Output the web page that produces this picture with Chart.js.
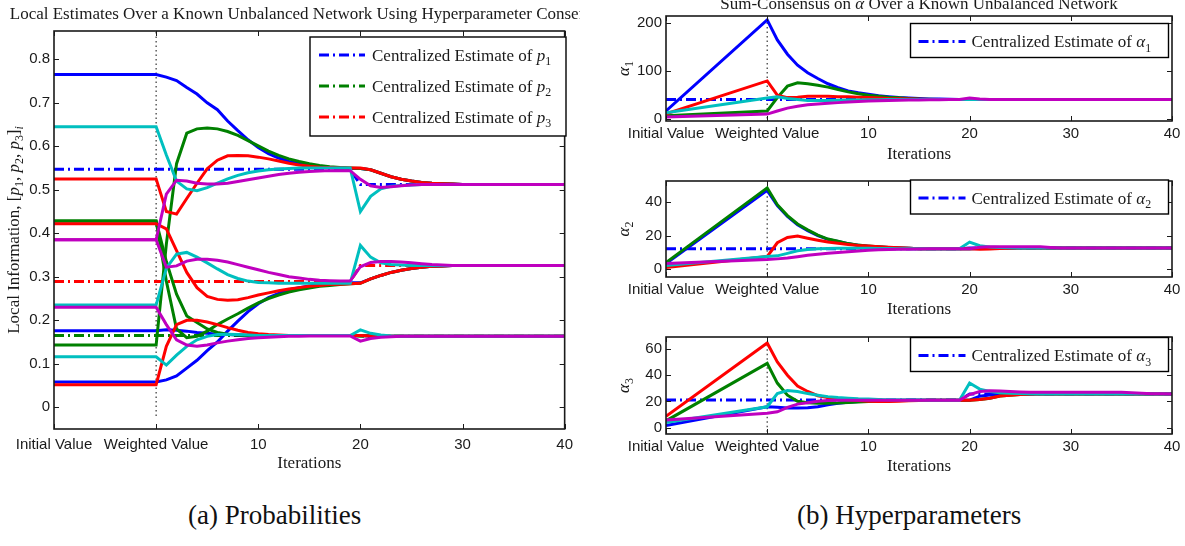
<!DOCTYPE html>
<html>
<head>
<meta charset="utf-8">
<script src="https://cdn.jsdelivr.net/npm/chart.js@4.4.1/dist/chart.umd.min.js"></script>
<style>
body { margin: 0; background: #fff; }
#wrap { position: relative; width: 1185px; height: 546px; overflow: hidden; background: #fff; }
canvas { position: absolute; }
.cap { position: absolute; top: 500px; font-family: "Liberation Serif", serif; font-size: 27px; color: #111; white-space: nowrap; }
</style>
</head>
<body>
<div id="wrap">
  <canvas id="cP" width="580" height="480" style="left:0px;top:0px"></canvas>
  <canvas id="cA1" width="585" height="168" style="left:600px;top:0px"></canvas>
  <canvas id="cA2" width="585" height="156" style="left:600px;top:168px"></canvas>
  <canvas id="cA3" width="585" height="157" style="left:600px;top:324px"></canvas>
  <div class="cap" style="left:188px">(a) Probabilities</div>
  <div class="cap" style="left:797px">(b) Hyperparameters</div>
</div>
<script>
// x positions: initial value, weighted value (iteration 0), iterations 1..40
var xPos = [0, 10,
  11, 12, 13, 14, 15, 16, 17, 18, 19, 20,
  21, 22, 23, 24, 25, 26, 27, 28, 29, 30,
  31, 32, 33, 34, 35, 36, 37, 38, 39, 40,
  41, 42, 43, 44, 45, 46, 47, 48, 49, 50];
var xTickVals = [0, 10, 20, 30, 40, 50];
var xTickLabels = ['Initial Value', 'Weighted Value', '10', '20', '30', '40'];

// ---- probabilities, one array per agent and component ----
var pBlue1 = [0.765, 0.765,
  0.759, 0.751, 0.735, 0.720, 0.700, 0.684, 0.658, 0.636, 0.615, 0.597,
  0.583, 0.573, 0.565, 0.560, 0.556, 0.553, 0.551, 0.550, 0.549, 0.549,
  0.546, 0.538, 0.530, 0.524, 0.520, 0.517, 0.515, 0.514, 0.513, 0.512,
  0.512, 0.512, 0.512, 0.512, 0.512, 0.512, 0.512, 0.512, 0.512, 0.512];
var pGreen1 = [0.143, 0.143,
  0.375, 0.560, 0.630, 0.640, 0.642, 0.640, 0.634, 0.625, 0.613, 0.601,
  0.589, 0.579, 0.571, 0.565, 0.560, 0.556, 0.553, 0.551, 0.550, 0.549,
  0.546, 0.538, 0.530, 0.524, 0.520, 0.517, 0.515, 0.514, 0.513, 0.512,
  0.512, 0.512, 0.512, 0.512, 0.512, 0.512, 0.512, 0.512, 0.512, 0.512];
var pRed1 = [0.525, 0.525,
  0.450, 0.444, 0.480, 0.515, 0.548, 0.568, 0.578, 0.579, 0.578, 0.575,
  0.571, 0.566, 0.561, 0.557, 0.554, 0.552, 0.551, 0.550, 0.550, 0.550,
  0.546, 0.538, 0.530, 0.524, 0.520, 0.517, 0.515, 0.514, 0.513, 0.512,
  0.512, 0.512, 0.512, 0.512, 0.512, 0.512, 0.512, 0.512, 0.512, 0.512];
var pCyan1 = [0.645, 0.645,
  0.580, 0.520, 0.502, 0.498, 0.505, 0.515, 0.525, 0.533, 0.539, 0.543,
  0.546, 0.548, 0.549, 0.550, 0.550, 0.550, 0.550, 0.550, 0.550, 0.450,
  0.485, 0.502, 0.508, 0.510, 0.511, 0.512, 0.512, 0.512, 0.512, 0.512,
  0.512, 0.512, 0.512, 0.512, 0.512, 0.512, 0.512, 0.512, 0.512, 0.512];
var pMag1 = [0.385, 0.385,
  0.490, 0.522, 0.520, 0.515, 0.513, 0.513, 0.515, 0.519, 0.523, 0.527,
  0.531, 0.535, 0.538, 0.540, 0.542, 0.543, 0.544, 0.544, 0.544, 0.524,
  0.509, 0.505, 0.507, 0.509, 0.511, 0.512, 0.512, 0.512, 0.512, 0.512,
  0.512, 0.512, 0.512, 0.512, 0.512, 0.512, 0.512, 0.512, 0.512, 0.512];

var pBlue2 = [0.176, 0.176,
  0.178, 0.177, 0.175, 0.172, 0.170, 0.168, 0.167, 0.166, 0.165, 0.165,
  0.165, 0.165, 0.165, 0.165, 0.165, 0.165, 0.165, 0.165, 0.165, 0.165,
  0.164, 0.163, 0.163, 0.163, 0.163, 0.163, 0.163, 0.163, 0.163, 0.163,
  0.163, 0.163, 0.163, 0.163, 0.163, 0.163, 0.163, 0.163, 0.163, 0.163];
var pGreen2 = [0.428, 0.428,
  0.335, 0.260, 0.210, 0.195, 0.180, 0.172, 0.168, 0.166, 0.165, 0.165,
  0.165, 0.165, 0.165, 0.165, 0.165, 0.165, 0.165, 0.165, 0.165, 0.165,
  0.164, 0.163, 0.163, 0.163, 0.163, 0.163, 0.163, 0.163, 0.163, 0.163,
  0.163, 0.163, 0.163, 0.163, 0.163, 0.163, 0.163, 0.163, 0.163, 0.163];
var pRed2 = [0.052, 0.052,
  0.140, 0.190, 0.200, 0.200, 0.196, 0.190, 0.183, 0.177, 0.172, 0.169,
  0.167, 0.166, 0.165, 0.165, 0.165, 0.165, 0.165, 0.165, 0.165, 0.165,
  0.164, 0.163, 0.163, 0.163, 0.163, 0.163, 0.163, 0.163, 0.163, 0.163,
  0.163, 0.163, 0.163, 0.163, 0.163, 0.163, 0.163, 0.163, 0.163, 0.163];
var pCyan2 = [0.116, 0.116,
  0.097, 0.120, 0.140, 0.155, 0.163, 0.167, 0.168, 0.167, 0.166, 0.165,
  0.165, 0.165, 0.165, 0.165, 0.165, 0.165, 0.165, 0.165, 0.165, 0.178,
  0.170, 0.166, 0.164, 0.163, 0.163, 0.163, 0.163, 0.163, 0.163, 0.163,
  0.163, 0.163, 0.163, 0.163, 0.163, 0.163, 0.163, 0.163, 0.163, 0.163];
var pMag2 = [0.230, 0.230,
  0.190, 0.155, 0.143, 0.140, 0.143, 0.148, 0.152, 0.155, 0.158, 0.160,
  0.161, 0.162, 0.163, 0.163, 0.164, 0.164, 0.164, 0.164, 0.164, 0.152,
  0.158, 0.161, 0.162, 0.163, 0.163, 0.163, 0.163, 0.163, 0.163, 0.163,
  0.163, 0.163, 0.163, 0.163, 0.163, 0.163, 0.163, 0.163, 0.163, 0.163];

var pBlue3 = [0.058, 0.058,
  0.063, 0.072, 0.090, 0.108, 0.130, 0.150, 0.175, 0.198, 0.220, 0.238,
  0.252, 0.262, 0.270, 0.275, 0.279, 0.282, 0.284, 0.285, 0.286, 0.286,
  0.295, 0.303, 0.310, 0.315, 0.319, 0.322, 0.324, 0.325, 0.326, 0.326,
  0.326, 0.326, 0.326, 0.326, 0.326, 0.326, 0.326, 0.326, 0.326, 0.326];
var pGreen3 = [0.428, 0.428,
  0.290, 0.180, 0.160, 0.163, 0.175, 0.190, 0.203, 0.215, 0.228, 0.240,
  0.250, 0.258, 0.265, 0.270, 0.274, 0.278, 0.280, 0.282, 0.284, 0.285,
  0.295, 0.303, 0.310, 0.315, 0.319, 0.322, 0.324, 0.325, 0.326, 0.326,
  0.326, 0.326, 0.326, 0.326, 0.326, 0.326, 0.326, 0.326, 0.326, 0.326];
var pRed3 = [0.422, 0.422,
  0.410, 0.360, 0.310, 0.275, 0.255, 0.248, 0.246, 0.247, 0.252, 0.258,
  0.263, 0.268, 0.272, 0.275, 0.278, 0.280, 0.282, 0.283, 0.284, 0.285,
  0.295, 0.303, 0.310, 0.315, 0.319, 0.322, 0.324, 0.325, 0.326, 0.326,
  0.326, 0.326, 0.326, 0.326, 0.326, 0.326, 0.326, 0.326, 0.326, 0.326];
var pCyan3 = [0.235, 0.235,
  0.320, 0.352, 0.356, 0.345, 0.332, 0.318, 0.305, 0.296, 0.290, 0.287,
  0.286, 0.285, 0.285, 0.285, 0.285, 0.285, 0.285, 0.285, 0.285, 0.372,
  0.345, 0.332, 0.328, 0.327, 0.326, 0.326, 0.326, 0.326, 0.326, 0.326,
  0.326, 0.326, 0.326, 0.326, 0.326, 0.326, 0.326, 0.326, 0.326, 0.326];
var pMag3 = [0.385, 0.385,
  0.322, 0.325, 0.336, 0.340, 0.340, 0.338, 0.334, 0.328, 0.322, 0.316,
  0.310, 0.305, 0.300, 0.297, 0.294, 0.292, 0.291, 0.290, 0.290, 0.323,
  0.333, 0.335, 0.335, 0.334, 0.332, 0.330, 0.328, 0.327, 0.326, 0.326,
  0.326, 0.326, 0.326, 0.326, 0.326, 0.326, 0.326, 0.326, 0.326, 0.326];

// centralized estimates (change at iteration 20)
var pCent1 = [0.547, 0.547,
  0.547, 0.547, 0.547, 0.547, 0.547, 0.547, 0.547, 0.547, 0.547, 0.547,
  0.547, 0.547, 0.547, 0.547, 0.547, 0.547, 0.547, 0.547, 0.547, 0.512,
  0.512, 0.512, 0.512, 0.512, 0.512, 0.512, 0.512, 0.512, 0.512, 0.512,
  0.512, 0.512, 0.512, 0.512, 0.512, 0.512, 0.512, 0.512, 0.512, 0.512];
var pCent2 = [0.165, 0.165,
  0.165, 0.165, 0.165, 0.165, 0.165, 0.165, 0.165, 0.165, 0.165, 0.165,
  0.165, 0.165, 0.165, 0.165, 0.165, 0.165, 0.165, 0.165, 0.165, 0.163,
  0.163, 0.163, 0.163, 0.163, 0.163, 0.163, 0.163, 0.163, 0.163, 0.163,
  0.163, 0.163, 0.163, 0.163, 0.163, 0.163, 0.163, 0.163, 0.163, 0.163];
var pCent3 = [0.289, 0.289,
  0.289, 0.289, 0.289, 0.289, 0.289, 0.289, 0.289, 0.289, 0.289, 0.289,
  0.289, 0.289, 0.289, 0.289, 0.289, 0.289, 0.289, 0.289, 0.289, 0.326,
  0.326, 0.326, 0.326, 0.326, 0.326, 0.326, 0.326, 0.326, 0.326, 0.326,
  0.326, 0.326, 0.326, 0.326, 0.326, 0.326, 0.326, 0.326, 0.326, 0.326];

// ---- hyperparameters ----
var a1Blue = [16, 207,
  165, 135, 112, 96, 84, 73, 65, 58, 54, 51,
  48, 46, 44, 43, 42, 41, 41, 40.5, 40, 40,
  40, 40, 40, 40, 40, 40, 40, 40, 40, 40,
  40, 40, 40, 40, 40, 40, 40, 40, 40, 40];
var a1Green = [6, 16,
  44, 68, 75, 73, 70, 66, 61, 56, 52, 49,
  47, 45, 43.5, 42, 41, 40.5, 40, 40, 40, 40,
  40, 40, 40, 40, 40, 40, 40, 40, 40, 40,
  40, 40, 40, 40, 40, 40, 40, 40, 40, 40];
var a1Red = [10, 79,
  49, 44, 45, 47, 47, 47, 46, 46, 45, 44,
  43, 42, 41.5, 41, 40.5, 40, 40, 40, 40, 40,
  40, 40, 40, 40, 40, 40, 40, 40, 40, 40,
  40, 40, 40, 40, 40, 40, 40, 40, 40, 40];
var a1Cyan = [12, 43,
  46, 42, 40, 38, 38, 38, 38.5, 39, 39, 39.5,
  39.5, 40, 40, 40, 40, 40, 40, 40, 40, 40,
  40, 40, 40, 40, 40, 40, 40, 40, 40, 40,
  40, 40, 40, 40, 40, 40, 40, 40, 40, 40];
var a1Mag = [3.5, 9.5,
  16, 22, 26, 29, 30.5, 32, 33.5, 35, 36, 37,
  37.5, 38, 38.5, 39, 39, 39.5, 39.5, 40, 40, 43,
  41, 40, 40, 40, 40, 40, 40, 40, 40, 40,
  40, 40, 40, 40, 40, 40, 40, 40, 40, 40];
var a1Cent = [40, 40,
  40, 40, 40, 40, 40, 40, 40, 40, 40, 40,
  40, 40, 40, 40, 40, 40, 40, 40, 40, 40,
  40, 40, 40, 40, 40, 40, 40, 40, 40, 40,
  40, 40, 40, 40, 40, 40, 40, 40, 40, 40];

var a2Blue = [3.4, 47,
  38, 31.5, 26.5, 23, 20, 17.8, 16.5, 15.2, 14.3, 13.7,
  13.3, 13, 12.7, 12.5, 12.3, 12.2, 12.2, 12.2, 12.2, 12.2,
  12.4, 12.7, 12.7, 12.7, 12.7, 12.7, 12.7, 12.7, 12.7, 12.7,
  12.7, 12.7, 12.7, 12.7, 12.7, 12.7, 12.7, 12.7, 12.7, 12.7];
var a2Green = [4, 48.5,
  38.5, 32, 27, 23.5, 20.4, 18, 16.7, 15.3, 14.4, 13.8,
  13.4, 13, 12.7, 12.5, 12.3, 12.2, 12.2, 12.2, 12.2, 12.3,
  12.5, 12.7, 12.7, 12.7, 12.7, 12.7, 12.7, 12.7, 12.7, 12.7,
  12.7, 12.7, 12.7, 12.7, 12.7, 12.7, 12.7, 12.7, 12.7, 12.7];
var a2Red = [1, 7.6,
  15.8, 19, 19.8, 18.5, 17.3, 16.2, 15.5, 14.8, 14.2, 13.8,
  13.4, 13.1, 12.8, 12.5, 12.3, 12.2, 12.2, 12.2, 12.2, 12.2,
  12.0, 12.1, 12.4, 12.6, 12.7, 12.7, 12.7, 12.7, 12.7, 12.7,
  12.7, 12.7, 12.7, 12.7, 12.7, 12.7, 12.7, 12.7, 12.7, 12.7];
var a2Cyan = [2.2, 7.6,
  8, 9.5, 11, 11.8, 12.2, 12.4, 12.5, 12.5, 12.5, 12.5,
  12.4, 12.4, 12.3, 12.3, 12.3, 12.2, 12.2, 12.2, 12.2, 16.2,
  14, 13.3, 13, 12.8, 12.7, 12.7, 12.7, 12.7, 12.7, 12.7,
  12.7, 12.7, 12.7, 12.7, 12.7, 12.7, 12.7, 12.7, 12.7, 12.7];
var a2Mag = [3.5, 5.8,
  6.2, 6.7, 7.5, 8.3, 8.9, 9.5, 10, 10.5, 10.9, 11.3,
  11.6, 11.8, 12, 12, 12.1, 12.2, 12.2, 12.2, 12.2, 12.2,
  13.1, 13.4, 13.4, 13.4, 13.4, 13.4, 13.4, 13.0, 12.7, 12.7,
  12.7, 12.7, 12.7, 12.7, 12.7, 12.7, 12.7, 12.7, 12.7, 12.7];
var a2Cent = [12.2, 12.2,
  12.2, 12.2, 12.2, 12.2, 12.2, 12.2, 12.2, 12.2, 12.2, 12.2,
  12.2, 12.2, 12.2, 12.2, 12.2, 12.2, 12.2, 12.2, 12.2, 12.7,
  12.7, 12.7, 12.7, 12.7, 12.7, 12.7, 12.7, 12.7, 12.7, 12.7,
  12.7, 12.7, 12.7, 12.7, 12.7, 12.7, 12.7, 12.7, 12.7, 12.7];

var a3Blue = [1.8, 16,
  15.6, 15, 15, 15.2, 16, 17.5, 18.6, 19.4, 20, 20.3,
  20.5, 20.7, 20.8, 20.9, 21, 21, 21, 21, 21, 21,
  24, 25, 25.7, 25.7, 25.7, 25.7, 25.7, 25.7, 25.7, 25.7,
  25.7, 25.7, 25.7, 25.7, 25.7, 25.7, 25.7, 25.7, 25.7, 25.7];
var a3Green = [5.3, 49,
  34, 24.8, 20.2, 19, 18.6, 18.6, 18.8, 19.2, 19.6, 20,
  20.3, 20.6, 20.8, 20.9, 21, 21, 21, 21, 21, 21,
  21.5, 22.5, 24.2, 24.8, 25.3, 25.6, 25.7, 25.7, 25.7, 25.7,
  25.7, 25.7, 25.7, 25.7, 25.7, 25.7, 25.7, 25.7, 25.7, 25.7];
var a3Red = [8.7, 64.4,
  50, 40, 31.7, 27.6, 24.4, 23, 22, 21.4, 20.7, 20.2,
  20, 20, 20.2, 20.5, 20.8, 21, 21, 21, 21, 21,
  21.5, 22.5, 24.2, 24.8, 25.3, 25.6, 25.7, 25.7, 25.7, 25.7,
  25.7, 25.7, 25.7, 25.7, 25.7, 25.7, 25.7, 25.7, 25.7, 25.7];
var a3Cyan = [4, 16,
  26, 28.3, 27.6, 26, 24.8, 23.7, 23, 22.5, 22, 21.8,
  21.6, 21.4, 21.3, 21.2, 21.1, 21, 21, 21, 21, 34,
  29.4, 27.6, 26.7, 26.2, 26, 25.8, 25.7, 25.7, 25.7, 25.7,
  25.7, 25.7, 25.7, 25.7, 25.7, 25.7, 25.7, 25.7, 25.7, 25.7];
var a3Mag = [6, 11,
  12.2, 15.6, 18, 19, 20.2, 20.7, 21, 21, 21, 21,
  21, 21, 21, 21, 21, 21, 21, 21, 21, 25.3,
  27.6, 28.2, 28, 27.6, 27.3, 27, 27, 27, 27, 27,
  27, 27, 27, 27, 27, 26.6, 26.2, 25.9, 25.8, 25.7];
var a3Cent = [21.1, 21.1,
  21.1, 21.1, 21.1, 21.1, 21.1, 21.1, 21.1, 21.1, 21.1, 21.1,
  21.1, 21.1, 21.1, 21.1, 21.1, 21.1, 21.1, 21.1, 21.1, 25.7,
  25.7, 25.7, 25.7, 25.7, 25.7, 25.7, 25.7, 25.7, 25.7, 25.7,
  25.7, 25.7, 25.7, 25.7, 25.7, 25.7, 25.7, 25.7, 25.7, 25.7];

// y axis ticks and the extent of the dotted "weighted value" marker
var yTicksP = [0, 0.1, 0.2, 0.3, 0.4, 0.5, 0.6, 0.7, 0.8];
var yTicksA1 = [0, 100, 200];
var yTicksA2 = [0, 20, 40];
var yTicksA3 = [0, 20, 40, 60];
var markP = [-0.02, 0.865];
var markA1 = [0, 207];
var markA2 = [-3, 48.5];
var markA3 = [-3, 64.4];

var BLUE = '#0000ff', GREEN = '#008000', RED = '#ff0000', CYAN = '#00bfbf', MAG = '#bf00bf';
var SERIF = '"Liberation Serif", "Times New Roman", serif';
var SANS = '"Liberation Sans", Arial, sans-serif';
var INK = '#1a1a1a';
var DASHDOT = [10, 4, 2, 4];

function pts(arr) {
  return arr.map(function (v, i) { return {x: xPos[i], y: v}; });
}

function solid(arr, color, order) {
  return {data: pts(arr), borderColor: color, borderWidth: 3, pointRadius: 0, fill: false, order: order};
}

function central(arr, color) {
  return {data: pts(arr), borderColor: color, borderWidth: 3, borderDash: DASHDOT, pointRadius: 0, fill: false, order: 50};
}

function marker(span) {
  return {data: [{x: 10, y: span[0]}, {x: 10, y: span[1]}], borderColor: '#333', borderWidth: 1.2,
    borderDash: [1.5, 3], pointRadius: 0, fill: false, order: 60};
}

function fontStr(style, size) {
  return (style.indexOf('it') >= 0 ? 'italic ' : '') + size + 'px ' + SERIF;
}

function drawRich(ctx, parts, x, y, size, align) {
  var widths = [], total = 0;
  parts.forEach(function (p) {
    var sz = p[1].indexOf('sub') >= 0 ? size * 0.7 : size;
    ctx.font = fontStr(p[1], sz);
    var w = ctx.measureText(p[0]).width;
    widths.push(w);
    total += w;
  });
  var cx = align === 'center' ? x - total / 2 : x;
  ctx.textAlign = 'left';
  ctx.textBaseline = 'alphabetic';
  parts.forEach(function (p, i) {
    var sub = p[1].indexOf('sub') >= 0;
    ctx.font = fontStr(p[1], sub ? size * 0.7 : size);
    ctx.fillText(p[0], cx, y + (sub ? size * 0.28 : 0));
    cx += widths[i];
  });
}

// box, inward ticks, boxed legend, titles
var paperPlugin = {
  id: 'paper',
  afterDraw: function (chart) {
    var o = chart.options.plugins.paper;
    var ctx = chart.ctx, a = chart.chartArea;
    var xs = chart.scales.x, ys = chart.scales.y;
    ctx.save();
    ctx.strokeStyle = INK;
    ctx.lineWidth = 1;
    ctx.beginPath();
    xs.ticks.forEach(function (t) {
      var px = Math.round(xs.getPixelForValue(t.value)) + 0.5;
      ctx.moveTo(px, a.bottom); ctx.lineTo(px, a.bottom - 5);
      ctx.moveTo(px, a.top); ctx.lineTo(px, a.top + 5);
    });
    ys.ticks.forEach(function (t) {
      var py = Math.round(ys.getPixelForValue(t.value)) + 0.5;
      ctx.moveTo(a.left, py); ctx.lineTo(a.left + 5, py);
      ctx.moveTo(a.right, py); ctx.lineTo(a.right - 5, py);
    });
    ctx.stroke();
    ctx.lineWidth = 1.6;
    ctx.strokeRect(a.left, a.top, a.right - a.left, a.bottom - a.top);

    var lg = o.legend;
    ctx.fillStyle = '#fff';
    ctx.fillRect(lg.x, lg.y, lg.w, lg.h);
    ctx.lineWidth = 1.4;
    ctx.strokeStyle = '#000';
    ctx.strokeRect(lg.x, lg.y, lg.w, lg.h);
    lg.items.forEach(function (it, i) {
      var ds = chart.data.datasets[it.index];
      var cy = lg.y + lg.first + i * lg.step;
      ctx.strokeStyle = ds.borderColor;
      ctx.lineWidth = ds.borderWidth;
      ctx.setLineDash(ds.borderDash || []);
      ctx.beginPath();
      ctx.moveTo(lg.x + lg.sample[0], cy);
      ctx.lineTo(lg.x + lg.sample[1], cy);
      ctx.stroke();
      ctx.setLineDash([]);
      ctx.fillStyle = INK;
      drawRich(ctx, it.label, lg.x + lg.textX, cy + 5.5, 17, 'left');
    });

    ctx.fillStyle = INK;
    if (o.yTitle) {
      ctx.save();
      ctx.translate(o.yTitle.x, (a.top + a.bottom) / 2);
      ctx.rotate(-Math.PI / 2);
      drawRich(ctx, o.yTitle.parts, 0, 5.5, 17, 'center');
      ctx.restore();
    }
    if (o.title) {
      drawRich(ctx, o.title.parts, (a.left + a.right) / 2, o.title.y, 17, 'center');
    }
    ctx.restore();
  }
};

function makeChart(id, g, datasets, yTicks, paper) {
  var W = g.W, H = g.H;
  return new Chart(document.getElementById(id), {
    type: 'line',
    data: {datasets: datasets},
    plugins: [paperPlugin],
    options: {
      responsive: false,
      animation: false,
      devicePixelRatio: 1,
      layout: {padding: {left: 0, top: g.T - g.cy, right: g.cx + W - g.R, bottom: 0}},
      scales: {
        x: {
          type: 'linear', min: 0, max: 50,
          grid: {display: false, drawTicks: false}, border: {display: false},
          afterBuildTicks: function (s) { s.ticks = xTickVals.map(function (v) { return {value: v}; }); },
          afterFit: function (s) { s.height = g.cy + H - g.B; },
          ticks: {
            autoSkip: false, maxRotation: 0, minRotation: 0, padding: g.tickPad, color: INK,
            font: {family: SANS, size: 15},
            callback: function (v) { return xTickLabels[xTickVals.indexOf(v)]; }
          },
          title: {display: true, text: 'Iterations', color: INK, padding: {top: 0, bottom: g.titlePad},
            font: {family: SERIF, size: 17}}
        },
        y: {
          type: 'linear', min: g.yMin, max: g.yMax,
          grid: {display: false, drawTicks: false}, border: {display: false},
          afterBuildTicks: function (s) { s.ticks = yTicks.map(function (v) { return {value: v}; }); },
          afterFit: function (s) { s.width = g.L - g.cx; },
          ticks: {padding: 4, color: INK, font: {family: SANS, size: 15},
            callback: function (v) { return String(v); }}
        }
      },
      plugins: {
        legend: {display: false},
        tooltip: {enabled: false},
        paper: paper
      }
    }
  });
}

var legendP = [
  {index: 0, label: [['Centralized Estimate of ', ''], ['p', 'it'], ['1', 'sub']]},
  {index: 1, label: [['Centralized Estimate of ', ''], ['p', 'it'], ['2', 'sub']]},
  {index: 2, label: [['Centralized Estimate of ', ''], ['p', 'it'], ['3', 'sub']]}
];

makeChart('cP',
  {cx: 0, cy: 0, W: 580, H: 480, L: 54, T: 31, R: 569, B: 429, yMin: -0.05, yMax: 0.865, tickPad: 7, titlePad: 6},
  [central(pCent1, BLUE), central(pCent2, GREEN), central(pCent3, RED), marker(markP),
    solid(pBlue1, BLUE, 5), solid(pBlue2, BLUE, 5), solid(pBlue3, BLUE, 5),
    solid(pGreen1, GREEN, 4), solid(pGreen2, GREEN, 4), solid(pGreen3, GREEN, 4),
    solid(pRed1, RED, 3), solid(pRed2, RED, 3), solid(pRed3, RED, 3),
    solid(pCyan1, CYAN, 2), solid(pCyan2, CYAN, 2), solid(pCyan3, CYAN, 2),
    solid(pMag1, MAG, 1), solid(pMag2, MAG, 1), solid(pMag3, MAG, 1)],
  yTicksP,
  {
    legend: {x: 310, y: 37, w: 256, h: 99, first: 18, step: 31, sample: [9, 55], textX: 62, items: legendP},
    yTitle: {x: 13, parts: [['Local Information, [', ''], ['p', 'it'], ['1', 'sub'], [', ', ''], ['p', 'it'], ['2', 'sub'],
      [', ', ''], ['p', 'it'], ['3', 'sub'], [']', ''], ['i', 'itsub']]},
    title: {y: 18.5, parts: [['Local Estimates Over a Known Unbalanced Network Using Hyperparameter Consensus', '']]}
  });

function alphaSets(cent, mark, b, gr, r, c, m) {
  return [central(cent, BLUE), marker(mark),
    solid(b, BLUE, 5), solid(gr, GREEN, 4), solid(r, RED, 3), solid(c, CYAN, 2), solid(m, MAG, 1)];
}

function alphaLegend(k, top) {
  return {x: 310.5, y: top, w: 258, h: 34, first: 18, step: 0, sample: [8, 55], textX: 61,
    items: [{index: 0, label: [['Centralized Estimate of ', ''], ['\u03b1', 'it'], [k, 'sub']]}]};
}

makeChart('cA1',
  {cx: 600, cy: 0, W: 585, H: 168, L: 666, T: 16, R: 1172, B: 121, yMin: -5, yMax: 215, tickPad: 4, titlePad: 3.5},
  alphaSets(a1Cent, markA1, a1Blue, a1Green, a1Red, a1Cyan, a1Mag), yTicksA1,
  {
    legend: alphaLegend('1', 23.5),
    yTitle: {x: 23, parts: [['\u03b1', 'it'], ['1', 'sub']]},
    title: {y: 8.5, parts: [['Sum-Consensus on ', ''], ['\u03b1', 'it'], [' Over a Known Unbalanced Network', '']]}
  });

makeChart('cA2',
  {cx: 600, cy: 168, W: 585, H: 156, L: 666, T: 172, R: 1172, B: 277, yMin: -4.6, yMax: 52.6, tickPad: 4, titlePad: 4.5},
  alphaSets(a2Cent, markA2, a2Blue, a2Green, a2Red, a2Cyan, a2Mag), yTicksA2,
  {
    legend: alphaLegend('2', 12),
    yTitle: {x: 23, parts: [['\u03b1', 'it'], ['2', 'sub']]}
  });

makeChart('cA3',
  {cx: 600, cy: 324, W: 585, H: 157, L: 666, T: 330, R: 1172, B: 434, yMin: -4.7, yMax: 69, tickPad: 4, titlePad: 4},
  alphaSets(a3Cent, markA3, a3Blue, a3Green, a3Red, a3Cyan, a3Mag), yTicksA3,
  {
    legend: alphaLegend('3', 13.5),
    yTitle: {x: 23, parts: [['\u03b1', 'it'], ['3', 'sub']]}
  });
</script>
</body>
</html>
